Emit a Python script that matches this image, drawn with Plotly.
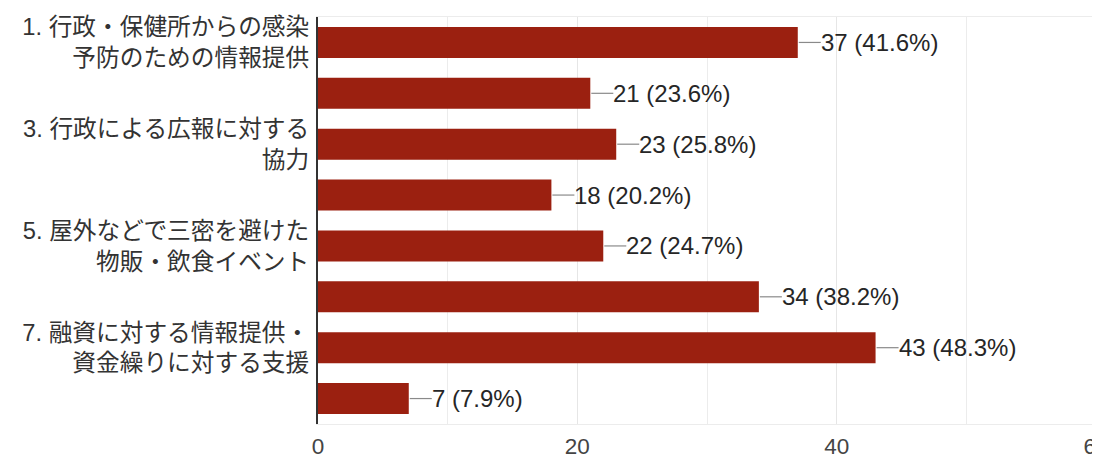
import plotly.graph_objects as go

codes = ["q1", "q2", "q3", "q4", "q5", "q6", "q7", "q8"]
labels = [
    "1. 行政・保健所からの感染<br>予防のための情報提供",
    "",
    "3. 行政による広報に対する<br>協力",
    "",
    "5. 屋外などで三密を避けた<br>物販・飲食イベント",
    "",
    "7. 融資に対する情報提供・<br>資金繰りに対する支援",
    "",
]
counts = [37, 21, 23, 18, 22, 34, 43, 7]
pcts = ["41.6%", "23.6%", "25.8%", "20.2%", "24.7%", "38.2%", "48.3%", "7.9%"]
xticks = [0, 20, 40, 60]

FONT = "Arial, 'Liberation Sans', 'Noto Sans CJK JP', sans-serif"
BAR = "#9b2010"

fig = go.Figure()
fig.add_trace(go.Bar(
    x=counts, y=codes, orientation="h",
    marker=dict(color=BAR, line=dict(width=0)),
    hoverinfo="skip",
))

for c, v, p in zip(codes, counts, pcts):
    fig.add_shape(type="line", xref="x", yref="y",
                  xsizemode="pixel", xanchor=v, x0=1, x1=23,
                  y0=c, y1=c, line=dict(color="#8a8a8a", width=1.2))
    fig.add_annotation(x=v, y=c, xref="x", yref="y", text=f"{v} ({p})",
                       showarrow=False, xanchor="left", yanchor="middle",
                       xshift=21, font=dict(family=FONT, size=24, color="#262626"))

# page body has an 8px default margin, so the figure is offset by 8px
fig.update_layout(
    width=1092, height=461,
    margin=dict(l=310, r=4, t=9, b=45, autoexpand=False),
    paper_bgcolor="white", plot_bgcolor="white",
    showlegend=False,
    bargap=0.39,
    font=dict(family=FONT, size=22, color="#333"),
    xaxis=dict(range=[0, 60], tickvals=xticks, ticktext=[str(t) for t in xticks],
               showgrid=True, gridcolor="#e6e6e6", gridwidth=1,
               minor=dict(dtick=10, showgrid=True, gridcolor="#ececec"),
               zeroline=False, showline=True, mirror=True, linecolor="#ececec", linewidth=1,
               ticks="", tickfont=dict(size=22.5, color="#444"), ticklabelstandoff=2,
               ticklabeloverflow="allow", automargin=False, fixedrange=True),
    yaxis=dict(type="category", categoryorder="array", categoryarray=codes,
               tickvals=codes, ticktext=labels, autorange="reversed",
               showgrid=False, zeroline=False, showline=True, linecolor="#333", linewidth=2,
               ticks="", tickfont=dict(size=23.7, color="#333"), ticklabelstandoff=2,
               automargin=False, fixedrange=True),
)

fig.write_html("out.html")
